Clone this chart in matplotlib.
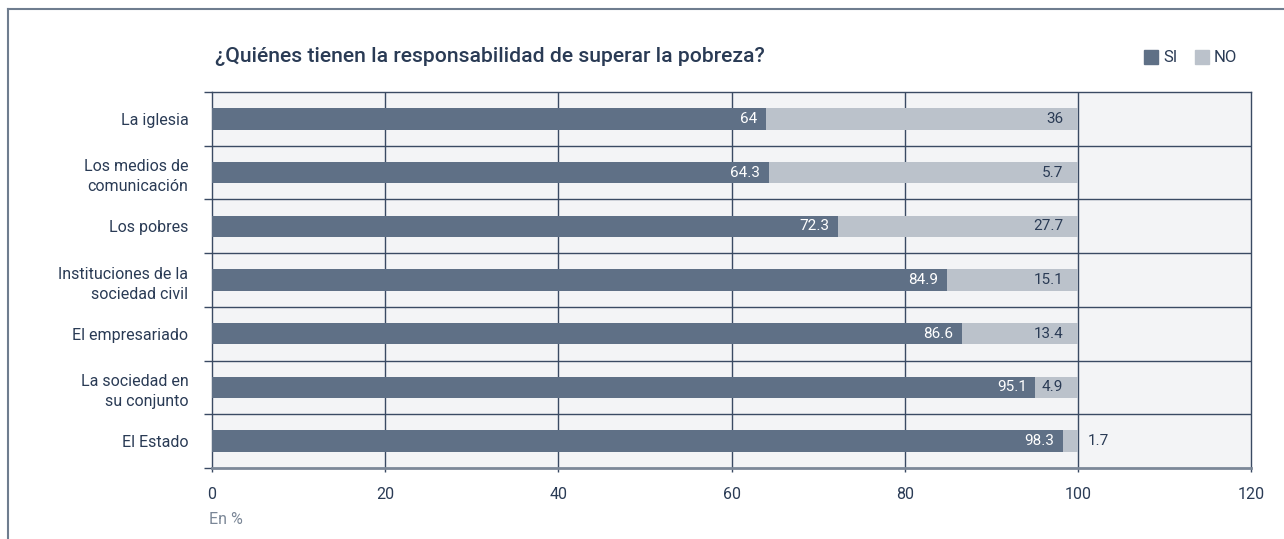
import matplotlib.pyplot as plt
import numpy as np

categories = ["La iglesia", "Los medios de\ncomunicación", "Los pobres",
              "Instituciones de la\nsociedad civil", "El empresariado",
              "La sociedad en\nsu conjunto", "El Estado"]
si = [64, 64.3, 72.3, 84.9, 86.6, 95.1, 98.3]
no = [36, 35.7, 27.7, 15.1, 13.4, 4.9, 1.7]
si_labels = ["64", "64.3", "72.3", "84.9", "86.6", "95.1", "98.3"]
no_labels = ["36", "5.7", "27.7", "15.1", "13.4", "4.9", "1.7"]
xticks = [0, 20, 40, 60, 80, 100, 120]

plt.rcParams['font.family'] = ['Roboto', 'DejaVu Sans']

c_si = "#5f7086"
c_no = "#bbc2cb"
c_bg = "#f3f4f6"
c_line = "#3a4a63"
c_text = "#2a3b55"
fs = 11.5

fig = plt.figure(figsize=(12.84, 5.39), dpi=100)
ax = fig.add_axes([212/1284, 1-468/539, (1251-212)/1284, (468-92)/539])
ax.set_facecolor(c_bg)

y = np.arange(len(categories))
ax.barh(y, si, height=0.4, color=c_si, zorder=3)
ax.barh(y, no, left=si, height=0.4, color=c_no, zorder=3)

for i in range(len(categories)):
    ax.text(si[i] - 1.0, y[i], si_labels[i], color="white", ha="right",
            va="center", fontsize=11, zorder=4)
    if no[i] < 3:
        ax.text(si[i] + no[i] + 1.2, y[i], no_labels[i], color=c_text,
                ha="left", va="center", fontsize=11, zorder=4)
    else:
        ax.text(si[i] + no[i] - 1.7, y[i], no_labels[i], color=c_text,
                ha="right", va="center", fontsize=11, zorder=4)

ax.set_xlim(0, 120)
ax.set_ylim(len(categories) - 0.5, -0.5)

for xv in xticks[1:-1]:
    ax.axvline(xv, color=c_line, lw=1.0, zorder=1)
for b in np.arange(0.5, len(categories) - 0.5, 1):
    ax.axhline(b, color=c_line, lw=1.0, zorder=1)

for s in ["left", "top", "right"]:
    ax.spines[s].set_color(c_line)
    ax.spines[s].set_linewidth(1.0)
ax.spines["bottom"].set_color("#7c8898")
ax.spines["bottom"].set_linewidth(2)

ax.set_xticks(xticks)
ax.set_xticklabels([str(v) for v in xticks], fontsize=fs, color=c_text)
ax.tick_params(axis="x", length=3, width=1.0, color=c_line, pad=11)

ax.set_yticks(np.arange(-0.5, len(categories)), minor=False)
ax.set_yticklabels([])
ax.set_yticks(y, minor=True)
ax.set_yticklabels(categories, minor=True, fontsize=fs, color=c_text,
                   linespacing=1.45)
ax.tick_params(axis="y", which="major", length=6, width=1.0, color=c_line)
ax.tick_params(axis="y", which="minor", length=0, pad=17)

fig.text(215/1284, 1-56/539, "¿Quiénes tienen la responsabilidad de superar la pobreza?",
         fontsize=15.2, fontweight="medium", color=c_text, va="center")
fig.text(209/1284, 1-519/539, "En %", fontsize=fs, color="#7b8797", va="center")

# legend
fig.patches.append(plt.Rectangle((1144/1284, 1-64/539), 14/1284, 14/539,
                                 transform=fig.transFigure, color=c_si))
fig.text(1163/1284, 1-57/539, "SI", fontsize=12, color=c_text, va="center")
fig.patches.append(plt.Rectangle((1195/1284, 1-64/539), 14/1284, 14/539,
                                 transform=fig.transFigure, color=c_no))
fig.text(1214/1284, 1-57/539, "NO", fontsize=12, color=c_text, va="center")

# outer frame (left and top)
fig.add_artist(plt.Line2D([8/1284, 8/1284], [0, 1-9/539], transform=fig.transFigure,
                          color="#6f7d8f", lw=1.5))
fig.add_artist(plt.Line2D([8/1284, 1], [1-9/539, 1-9/539], transform=fig.transFigure,
                          color="#6f7d8f", lw=1.5))

fig.savefig("out.png", dpi=100, facecolor="white")
